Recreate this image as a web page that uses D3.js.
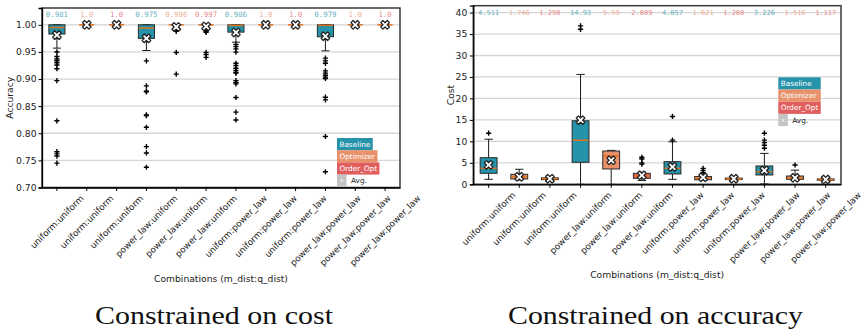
<!DOCTYPE html>
<html>
<head>
<meta charset="utf-8">
<script src="https://cdn.jsdelivr.net/npm/d3@7/dist/d3.min.js"></script>
<style>
  html, body { margin: 0; padding: 0; background: #ffffff; }
  svg { display: block; }
</style>
</head>
<body>
<svg id="chart" width="862" height="329"></svg>
<script>
// ---- categories and series ----
const categories = [
  "uniform:uniform", "uniform:uniform", "uniform:uniform",
  "power_law:uniform", "power_law:uniform", "power_law:uniform",
  "uniform:power_law", "uniform:power_law", "uniform:power_law",
  "power_law:power_law", "power_law:power_law", "power_law:power_law"
];
const seriesNames = ["Baseline", "Optimizer", "Order_Opt"];
const seriesColors = ["#2593a9", "#e8916b", "#e15e5e"];
const avgLabel = "Avg.";

// ---- accuracy (constrained on cost) ----
const accTicks = [0.70, 0.75, 0.80, 0.85, 0.90, 0.95, 1.00];
const accMean = [0.981, 1.0, 1.0, 0.975, 0.996, 0.997, 0.986, 1.0, 1.0, 0.979, 1.0, 1.0];
const accQ1 = [0.983, 1.0, 1.0, 0.975, 1.0, 1.0, 0.9865, 1.0, 1.0, 0.978, 1.0, 1.0];
const accMedian = [0.995, 1.0, 1.0, 0.994, 1.0, 1.0, 0.999, 1.0, 1.0, 0.999, 1.0, 1.0];
const accQ3 = [1.0, 1.0, 1.0, 1.0, 1.0, 1.0, 1.0, 1.0, 1.0, 1.0, 1.0, 1.0];
const accLow = [0.957, 1.0, 1.0, 0.9526, 1.0, 1.0, 0.968, 1.0, 1.0, 0.952, 1.0, 1.0];
const accHigh = [1.0, 1.0, 1.0, 1.0, 1.0, 1.0, 1.0, 1.0, 1.0, 1.0, 1.0, 1.0];
const accOutliers = [
  [0.950, 0.9415, 0.937, 0.9336, 0.930, 0.926, 0.919, 0.897, 0.823, 0.766, 0.762, 0.758, 0.745],
  [],
  [],
  [0.9335, 0.8874, 0.8776, 0.8763, 0.8339, 0.8326, 0.811, 0.7754, 0.7637, 0.7373],
  [0.990, 0.988, 0.949, 0.909],
  [0.990, 0.988, 0.986, 0.949, 0.945, 0.940],
  [0.964, 0.960, 0.9557, 0.9496, 0.929, 0.925, 0.920, 0.9157, 0.912, 0.911, 0.897, 0.8935, 0.891, 0.866, 0.839, 0.8246],
  [],
  [],
  [0.9385, 0.9335, 0.929, 0.915, 0.911, 0.907, 0.9035, 0.901, 0.8665, 0.8615, 0.794, 0.729],
  [],
  []
];

// ---- cost (constrained on accuracy) ----
const costTicks = [0, 5, 10, 15, 20, 25, 30, 35, 40];
const costMean = [4.511, 1.746, 1.298, 14.93, 5.59, 2.089, 4.057, 1.621, 1.288, 3.226, 1.516, 1.117];
const costQ1 = [2.56, 1.24, 1.08, 5.13, 3.57, 1.40, 2.40, 1.05, 1.10, 2.17, 1.16, 0.95];
const costMedian = [3.73, 1.77, 1.30, 10.25, 6.60, 1.93, 3.73, 1.40, 1.25, 2.94, 1.45, 1.10];
const costQ3 = [6.20, 2.33, 1.50, 14.80, 7.75, 2.56, 5.27, 1.80, 1.45, 4.27, 1.93, 1.25];
const costLow = [1.16, 1.00, 0.95, 0.0, 0.0, 0.90, 1.16, 0.95, 1.00, 0.10, 1.00, 0.85];
const costHigh = [10.5, 3.5, 1.6, 25.6, 7.9, 2.8, 9.9, 2.3, 1.6, 7.2, 3.3, 1.35];
const costOutliers = [
  [11.9],
  [],
  [],
  [36.1, 36.9],
  [],
  [4.7, 5.0, 5.9, 6.3],
  [10.3, 15.8],
  [2.7, 3.2, 3.7],
  [],
  [8.4, 9.1, 9.7, 10.3, 11.9],
  [4.5],
  []
];

const svg = d3.select("#chart");
const SANS = "DejaVu Sans, Verdana, sans-serif";
const MONO = "DejaVu Sans Mono, monospace";

function fmtMean(v) {
  return Number.isInteger(v) ? v.toFixed(1) : String(v);
}

// filled "X" marker centred at the origin
function xMarkerPath(a, t) {
  const pts = [[-t,-a],[t,-a],[t,-t],[a,-t],[a,t],[t,t],[t,a],[-t,a],[-t,t],[-a,t],[-a,-t],[-t,-t]];
  const c = Math.SQRT1_2;
  return "M" + pts.map(([px, py]) => [(px - py) * c, (px + py) * c].map(v => v.toFixed(2)).join(",")).join("L") + "Z";
}

function drawPanel(cfg) {
  const g = svg.append("g");
  const x = d3.scaleBand().domain(d3.range(categories.length)).range([cfg.left, cfg.right]);
  const y = d3.scaleLinear().domain(cfg.domain).range([cfg.bottom, cfg.top]);
  const bw = x.bandwidth() * cfg.boxFrac;
  const cx = i => x(i) + x.bandwidth() / 2;

  // horizontal grid
  g.append("g").selectAll("line").data(cfg.ticks).join("line")
    .attr("x1", cfg.left).attr("x2", cfg.right)
    .attr("y1", d => y(d)).attr("y2", d => y(d))
    .attr("stroke", "#d6d6d6").attr("stroke-width", 1.3);

  // mean value labels along the top
  g.append("g").selectAll("text").data(cfg.mean).join("text")
    .attr("x", (d, i) => cx(i))
    .attr("y", y(cfg.labelAt))
    .attr("dy", "0.35em")
    .attr("text-anchor", "middle")
    .attr("font-family", MONO)
    .attr("font-size", cfg.labelSize)
    .attr("fill", (d, i) => seriesColors[i % 3])
    .attr("fill-opacity", 0.75)
    .text(d => fmtMean(d));

  // boxes
  const boxes = g.append("g").selectAll("g").data(d3.range(categories.length)).join("g");
  // whiskers
  boxes.append("line")
    .attr("x1", cx).attr("x2", cx)
    .attr("y1", i => y(cfg.low[i])).attr("y2", i => y(cfg.q1[i]))
    .attr("stroke", "#1a1a1a").attr("stroke-width", 1);
  boxes.append("line")
    .attr("x1", cx).attr("x2", cx)
    .attr("y1", i => y(cfg.q3[i])).attr("y2", i => y(cfg.high[i]))
    .attr("stroke", "#1a1a1a").attr("stroke-width", 1);
  // caps
  [cfg.low, cfg.high].forEach(arr => {
    boxes.append("line")
      .attr("x1", i => cx(i) - bw / 4).attr("x2", i => cx(i) + bw / 4)
      .attr("y1", i => y(arr[i])).attr("y2", i => y(arr[i]))
      .attr("stroke", "#1a1a1a").attr("stroke-width", 1);
  });
  // box body
  boxes.append("rect")
    .attr("x", i => cx(i) - bw / 2)
    .attr("width", bw)
    .attr("y", i => y(cfg.q3[i]))
    .attr("height", i => Math.max(0, y(cfg.q1[i]) - y(cfg.q3[i])))
    .attr("fill", i => seriesColors[i % 3])
    .attr("stroke", "#2a2a2a").attr("stroke-width", 1);
  // median
  boxes.append("line")
    .attr("x1", i => cx(i) - bw / 2 + 0.5).attr("x2", i => cx(i) + bw / 2 - 0.5)
    .attr("y1", i => y(cfg.median[i])).attr("y2", i => y(cfg.median[i]))
    .attr("stroke", "#e0701c").attr("stroke-width", 1.5);
  // outliers
  boxes.each(function (i) {
    d3.select(this).selectAll("path.out").data(cfg.outliers[i]).join("path")
      .attr("class", "out")
      .attr("transform", v => `translate(${cx(i)},${y(v)})`)
      .attr("d", "M-2.6,0H2.6M0,-2.6V2.6")
      .attr("stroke", "#000").attr("stroke-width", 1.4);
  });
  // mean markers
  boxes.append("path")
    .attr("transform", i => `translate(${cx(i)},${y(cfg.mean[i])})`)
    .attr("d", xMarkerPath(4.6, 1.5))
    .attr("fill", "#ffffff").attr("stroke", "#222").attr("stroke-width", 1.3)
    .attr("stroke-linejoin", "round");

  // frame
  g.append("rect")
    .attr("x", cfg.left).attr("y", cfg.top)
    .attr("width", cfg.right - cfg.left).attr("height", cfg.bottom - cfg.top)
    .attr("fill", "none").attr("stroke", "#3a3a3a").attr("stroke-width", 1.5);

  // y axis
  const yAxis = g.append("g").attr("transform", `translate(${cfg.left},0)`)
    .call(d3.axisLeft(y).tickValues(cfg.ticks).tickFormat(cfg.fmt).tickSize(3.5).tickPadding(cfg.yPad));
  yAxis.select(".domain").attr("stroke", "#000").attr("stroke-width", 1.3);
  yAxis.selectAll(".tick line").attr("stroke", "#000");
  yAxis.selectAll("text").attr("font-family", SANS).attr("font-size", 9.2).attr("fill", "#222");

  // x axis with rotated labels centred under each tick
  const xAxis = g.append("g").attr("transform", `translate(0,${cfg.bottom})`)
    .call(d3.axisBottom(x).tickFormat(i => categories[i]).tickSize(3.5).tickSizeOuter(0));
  xAxis.select(".domain").attr("stroke", "#000").attr("stroke-width", 1.3);
  xAxis.selectAll(".tick line").attr("stroke", "#000");
  const fs = 8.8, h = fs * 1.17;
  xAxis.selectAll("text")
    .attr("font-family", SANS).attr("font-size", fs).attr("fill", "#222")
    .attr("text-anchor", "middle").attr("y", null).attr("dy", null)
    .each(function () {
      const L = this.getComputedTextLength();
      const half = (L + h) * Math.SQRT1_2 / 2;
      const cy = 5.5 + half;
      d3.select(this)
        .attr("x", 0).attr("y", cy).attr("dy", "0.35em")
        .attr("transform", `rotate(-45,0,${cy})`);
    });

  // axis titles
  g.append("text")
    .attr("transform", `translate(${cfg.yTitleX},${(cfg.top + cfg.bottom) / 2}) rotate(-90)`)
    .attr("text-anchor", "middle").attr("dy", "0.35em")
    .attr("font-family", SANS).attr("font-size", 9.2).attr("fill", "#222")
    .text(cfg.yTitle);
  g.append("text")
    .attr("x", (cfg.left + cfg.right) / 2).attr("y", cfg.xTitleY)
    .attr("text-anchor", "middle")
    .attr("font-family", SANS).attr("font-size", 9.2).attr("fill", "#222")
    .text("Combinations (m_dist:q_dist)");

  // legend: coloured text boxes, then the average marker entry
  const lg = g.append("g").attr("transform", `translate(${cfg.legendX},${cfg.legendY})`);
  const rowH = 12.2, pad = 2.4;
  const items = lg.selectAll("g").data(seriesNames).join("g")
    .attr("transform", (d, k) => `translate(0,${k * rowH})`);
  const txt = items.append("text")
    .attr("x", pad).attr("y", rowH / 2).attr("dy", "0.36em")
    .attr("font-family", SANS).attr("font-size", 7.3).attr("fill", "#ffffff")
    .text(d => d);
  const widths = [];
  txt.each(function () { widths.push(this.getComputedTextLength() + 2 * pad); });
  const maxW = d3.max(widths);
  items.insert("rect", "text")
    .attr("width", (d, k) => cfg.legendEqual ? maxW : widths[k])
    .attr("height", rowH)
    .attr("fill", (d, k) => seriesColors[k]);
  const avg = lg.append("g").attr("transform", `translate(0,${3 * rowH})`);
  avg.append("rect").attr("width", 9.5).attr("height", rowH).attr("fill", "#c4c4c4");
  avg.append("text").attr("x", 4.75).attr("y", rowH / 2).attr("dy", "0.3em")
    .attr("text-anchor", "middle").attr("font-family", SANS).attr("font-size", 5.5)
    .attr("fill", "#ffffff").text("x");
  avg.append("text").attr("x", 14).attr("y", rowH / 2).attr("dy", "0.36em")
    .attr("font-family", SANS).attr("font-size", 7.3).attr("fill", "#222").text(avgLabel);

  // caption below the panel
  svg.append("text")
    .attr("x", cfg.captionX).attr("y", 324)
    .attr("text-anchor", "middle")
    .attr("font-family", "Liberation Serif, Times New Roman, serif")
    .attr("font-size", 25)
    .attr("fill", "#111")
    .attr("textLength", cfg.captionW).attr("lengthAdjust", "spacingAndGlyphs")
    .text(cfg.caption);
}

drawPanel({
  left: 42, right: 400, top: 8, bottom: 187.5,
  domain: [0.70, 1.031], ticks: accTicks, fmt: d3.format(".2f"),
  mean: accMean, q1: accQ1, median: accMedian, q3: accQ3,
  low: accLow, high: accHigh, outliers: accOutliers,
  boxFrac: 0.54, labelAt: 1.0185, labelSize: 7.4, yPad: 2,
  yTitle: "Accuracy", yTitleX: 10, xTitleY: 281.5,
  legendX: 337, legendY: 138, legendEqual: false,
  caption: "Constrained on cost", captionX: 214, captionW: 238
});

drawPanel({
  left: 473.3, right: 841, top: 5.7, bottom: 184.3,
  domain: [0, 41.6], ticks: costTicks, fmt: d3.format("d"),
  mean: costMean, q1: costQ1, median: costMedian, q3: costQ3,
  low: costLow, high: costHigh, outliers: costOutliers,
  boxFrac: 0.55, labelAt: 40, labelSize: 7, yPad: 2.5,
  yTitle: "Cost", yTitleX: 451, xTitleY: 278,
  legendX: 778.3, legendY: 77.3, legendEqual: true,
  caption: "Constrained on accuracy", captionX: 655.5, captionW: 295
});
</script>
</body>
</html>
